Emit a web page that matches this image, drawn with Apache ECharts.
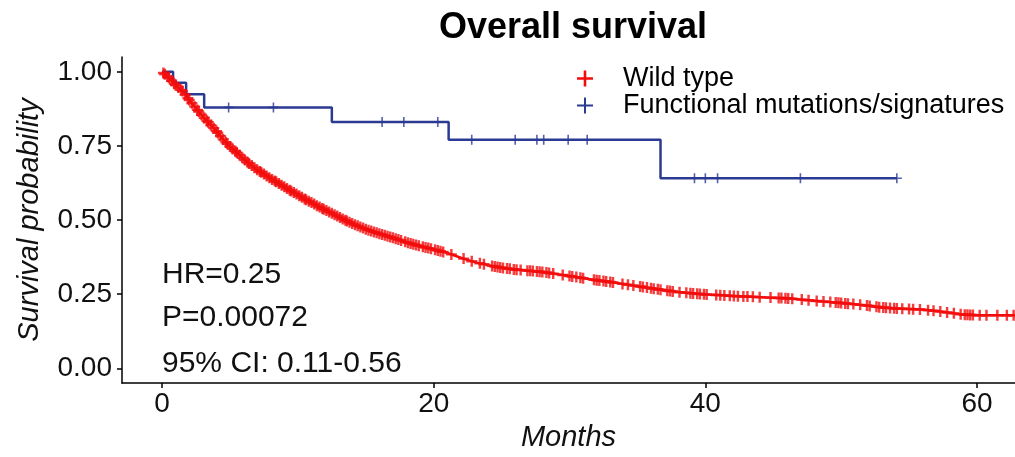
<!DOCTYPE html>
<html>
<head>
<meta charset="utf-8">
<script src="https://cdn.jsdelivr.net/npm/echarts@6/dist/echarts.min.js"></script>
<style>
  html, body { margin: 0; padding: 0; background: #fff; }
  #chart { width: 1015px; height: 457px; }
</style>
</head>
<body>
<div id="chart"></div>
<script>
const xTicks = [0, 20, 40, 60];
const yTicks = [0, 0.25, 0.5, 0.75, 1];

// Functional mutations/signatures (KM steps)
const mutTime = [0, 0.81, 1.77, 3.1, 12.5, 21.1, 36.7, 54.1];
const mutSurv = [1, 0.963, 0.924, 0.88, 0.831, 0.771, 0.641, 0.641];
const mutCensor = [4.9, 8.2, 16.2, 17.8, 20.3, 22.8, 26.0, 27.6, 28.1, 29.9, 31.3, 39.2, 40.0, 40.9, 47.0, 54.1];

// Wild type (curve)
const wildTime = [0, 0.5, 1, 1.5, 2, 2.5, 3, 3.5, 4, 4.5, 5, 5.5, 6, 6.5, 7, 7.5, 8, 8.5, 9, 9.5,
  10, 10.5, 11, 11.5, 12, 12.5, 13, 13.5, 14, 15, 16, 17, 18, 19, 20, 21, 22, 23, 24, 25,
  26, 27, 28, 29, 30, 31, 32, 33, 34, 35, 36, 37, 38, 39, 40, 41, 42, 43, 44, 45,
  46, 47, 48, 49, 50, 51, 52, 53, 54, 55, 56, 57, 58, 59, 60, 61, 62, 63];
const wildSurv = [1, 0.98, 0.955, 0.935, 0.905, 0.877, 0.85, 0.825, 0.8, 0.772, 0.748, 0.728, 0.706, 0.687, 0.67, 0.655, 0.64, 0.626, 0.612, 0.598,
  0.585, 0.571, 0.559, 0.546, 0.534, 0.523, 0.511, 0.499, 0.488, 0.469, 0.454, 0.44, 0.425, 0.412, 0.401, 0.389, 0.373, 0.358, 0.348, 0.339,
  0.333, 0.329, 0.325, 0.318, 0.311, 0.304, 0.297, 0.291, 0.284, 0.277, 0.27, 0.263, 0.257, 0.253, 0.249, 0.247, 0.244, 0.242, 0.24, 0.238,
  0.236, 0.232, 0.228, 0.224, 0.22, 0.216, 0.211, 0.205, 0.202, 0.2, 0.198, 0.193, 0.187, 0.181, 0.179, 0.179, 0.179, 0.179];
const wildCensor = [0.1, 0.2, 0.4, 0.5, 0.7, 0.9, 1.0, 1.2, 1.4, 1.5, 1.7, 1.9, 2.0, 2.2, 2.4, 2.6, 2.7, 2.9, 3.1, 3.3,
  3.4, 3.6, 3.8, 4.0, 4.1, 4.3, 4.5, 4.7, 4.8, 5.0, 5.2, 5.4, 5.5, 5.7, 5.9, 6.1, 6.3, 6.4, 6.6, 6.8,
  7.0, 7.2, 7.3, 7.5, 7.7, 7.9, 8.1, 8.3, 8.4, 8.6, 8.8, 9.0, 9.2, 9.4, 9.5, 9.7, 9.9, 10.1, 10.3, 10.5,
  10.6, 10.8, 11.0, 11.2, 11.4, 11.6, 11.8, 11.9, 12.1, 12.3, 12.5, 12.7, 12.9, 13.1, 13.3, 13.5, 13.6, 13.8, 14.0, 14.2,
  14.4, 14.6, 14.8, 15.0, 15.2, 15.4, 15.6, 15.8, 16.0, 16.2, 16.4, 16.6, 16.8, 17.0, 17.2, 17.4, 17.6, 17.9, 18.1, 18.3,
  18.5, 18.7, 18.9, 19.2, 19.4, 19.6, 19.8, 20.1, 20.3, 20.5, 20.7,
  21.3, 22.2, 22.8, 23.4, 23.7, 24.3, 24.5, 24.7, 24.9, 25.1, 25.4, 25.6, 25.9, 26.1, 26.4, 26.9, 27.1, 27.3, 27.6, 27.8,
  28.0, 28.3, 28.5, 28.8, 29.5, 30.0, 30.2, 30.5, 30.8, 31.0, 31.8, 32.0, 32.2, 32.5, 32.7, 33.0, 33.2, 33.9, 34.3, 34.7,
  35.2, 35.4, 35.7, 36.0, 36.2, 36.5, 36.7, 37.2, 37.4, 37.6, 38.1, 38.6, 38.9, 39.1, 39.4, 39.6, 39.9, 40.1,
  40.8, 41.1, 41.4, 41.8, 42.1, 42.4, 42.8, 43.1, 43.5, 44.0, 44.8, 45.4, 45.6, 45.9, 46.1, 46.4, 47.1, 47.6, 48.2, 48.7,
  49.2, 49.6, 49.8, 50.0, 50.3, 50.5, 50.9, 51.4, 51.9, 52.1, 52.6, 52.8, 53.1, 53.3, 53.6, 53.9, 54.1, 54.5, 55.0, 55.3,
  55.8, 56.4, 56.8, 57.3, 57.8, 58.3, 58.8, 59.1, 59.3, 59.5, 59.7, 60.2, 60.7, 61.5, 62.2, 62.7];

const RED = '#f20d0d';
const BLUE = '#2b3a92';
const FONT = '"Liberation Sans", Arial, sans-serif';
const plus = 'path://M3.9,0H6.1V3.9H10V6.1H6.1V10H3.9V6.1H0V3.9H3.9Z';
const plusThin = 'path://M4.2,0H5.8V4.2H10V5.8H5.8V10H4.2V5.8H0V4.2H4.2Z';
const plusRedLegend = 'path://M6.7,0H9.3V6.7H16V9.3H9.3V16H6.7V9.3H0V6.7H6.7Z';
const plusBlueLegend = 'path://M7,0H9V7H16V9H9V16H7V9H0V7H7Z';

// survival at time t on a step curve
function stepAt(times, surv, t) {
  let v = surv[0];
  for (let i = 0; i < times.length; i++) if (times[i] <= t) v = surv[i];
  return v;
}
// position on the drawn (straight-segment) curve
function lineAt(times, surv, t) {
  for (let i = 1; i < times.length; i++) {
    if (t <= times[i]) {
      const f = (t - times[i - 1]) / (times[i] - times[i - 1]);
      return surv[i - 1] + f * (surv[i] - surv[i - 1]);
    }
  }
  return surv[surv.length - 1];
}

const chart = echarts.init(document.getElementById('chart'));

const axisCommon = {
  type: 'value',
  splitLine: { show: false },
  axisLine: { show: true, onZero: false, lineStyle: { color: '#000', width: 1.5 } },
  axisTick: { show: true, length: 5, lineStyle: { color: '#000', width: 1.5 } },
};

chart.setOption({
  animation: false,
  title: {
    text: 'Overall survival', left: 568, top: 5, textAlign: 'center',
    textStyle: { fontFamily: FONT, fontSize: 36, fontWeight: 'bold', color: '#000' }
  },
  legend: {
    orient: 'vertical', left: 572, top: 60, itemWidth: 16, itemHeight: 16, itemGap: 0,
    data: [
      { name: 'Wild type', icon: plusRedLegend },
      { name: 'Functional mutations/signatures', icon: plusBlueLegend }
    ],
    textStyle: { fontFamily: FONT, fontSize: 27, color: '#000', lineHeight: 27, padding: [0, 0, 0, 25] }
  },
  grid: { left: 122, right: 0, top: 57, bottom: 69 },
  xAxis: Object.assign({}, axisCommon, {
    min: -2.95, max: 62.8,
    axisTick: Object.assign({}, axisCommon.axisTick, { customValues: xTicks }),
    axisLabel: { customValues: xTicks, fontFamily: FONT, fontSize: 28, color: '#111', margin: 7 },
    name: 'Months', nameLocation: 'middle', nameGap: 38,
    nameTextStyle: { fontFamily: FONT, fontSize: 29, fontStyle: 'italic', color: '#111' }
  }),
  yAxis: Object.assign({}, axisCommon, {
    min: -0.05, max: 1.05,
    axisTick: Object.assign({}, axisCommon.axisTick, { customValues: yTicks }),
    axisLabel: {
      customValues: yTicks, fontFamily: FONT, fontSize: 28, color: '#111', margin: 10,
      formatter: v => v.toFixed(2)
    },
    name: 'Survival probability', nameLocation: 'middle', nameRotate: 90, nameGap: 78,
    nameTextStyle: { fontFamily: FONT, fontSize: 29, fontStyle: 'italic', color: '#111' }
  }),
  graphic: [
    { type: 'text', x: 162, y: 275, style: { text: 'HR=0.25', fill: '#111', font: '30px ' + FONT, verticalAlign: 'middle' } },
    { type: 'text', x: 162, y: 318, style: { text: 'P=0.00072', fill: '#111', font: '30px ' + FONT, verticalAlign: 'middle' } },
    { type: 'text', x: 162, y: 364, style: { text: '95% CI: 0.11-0.56', fill: '#111', font: '30px ' + FONT, verticalAlign: 'middle' } }
  ],
  series: [
    {
      name: 'Functional mutations/signatures', type: 'line', step: 'end', showSymbol: false,
      color: BLUE, lineStyle: { color: BLUE, width: 2.5 },
      data: mutTime.map((t, i) => [t, mutSurv[i]]), z: 2
    },
    {
      name: 'mut-censor', type: 'scatter', symbol: plusThin, symbolSize: 10, silent: true,
      itemStyle: { color: BLUE }, z: 2,
      data: mutCensor.map(t => [t, stepAt(mutTime, mutSurv, t)])
    },
    {
      name: 'Wild type', type: 'line', showSymbol: false,
      color: RED, lineStyle: { color: RED, width: 2.5 },
      data: wildTime.map((t, i) => [t, wildSurv[i]]), z: 3
    },
    {
      name: 'wild-censor', type: 'scatter', symbol: plus, symbolSize: 11, silent: true,
      itemStyle: { color: RED }, z: 3,
      data: wildCensor.map(t => [t, lineAt(wildTime, wildSurv, t)])
    }
  ]
});
</script>
</body>
</html>
